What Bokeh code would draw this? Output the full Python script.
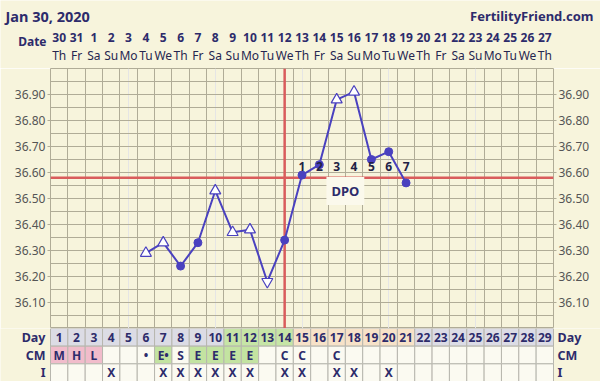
import numpy as np
from bokeh.plotting import figure
from bokeh.layouts import column
from bokeh.models import (Range1d, FixedTicker, LinearAxis, Span, Label, Grid,
                          ColumnDataSource, FactorRange, PrintfTickFormatter)
from bokeh.core.properties import value
from bokeh.embed import file_html
from bokeh.resources import INLINE

# ---------------- data ----------------
title = "Jan 30, 2020"
site = "FertilityFriend.com"
days = list(range(1, 30))
dates = ["30", "31", "1", "2", "3", "4", "5", "6", "7", "8", "9", "10", "11", "12",
         "13", "14", "15", "16", "17", "18", "19", "20", "21", "22", "23", "24",
         "25", "26", "27"]
weekdays = ["Th", "Fr", "Sa", "Su", "Mo", "Tu", "We"] * 4 + ["Th"]

temp_days = [6, 7, 8, 9, 10, 11, 12, 13, 14, 15, 16, 17, 18, 19, 20, 21]
temps = [36.29, 36.33, 36.24, 36.33, 36.53, 36.37, 36.38, 36.18, 36.34,
         36.59, 36.63, 36.88, 36.91, 36.65, 36.68, 36.56]
temp_marks = ["tri", "tri", "dot", "dot", "tri", "tri", "tri", "inv", "dot",
              "dot", "dot", "tri", "tri", "dot", "dot", "dot"]

coverline = 36.58
ovulation_day = 14
dpo_days = [15, 16, 17, 18, 19, 20, 21]
dpo_labels = ["1", "2", "3", "4", "5", "6", "7"]

y_ticks = [36.10, 36.20, 36.30, 36.40, 36.50, 36.60, 36.70, 36.80, 36.90]

day_phase = ["g"] * 10 + ["fertile"] * 4 + ["luteal"] * 7 + ["g"] * 8
cm = ["M", "H", "L", "", "", "•", "E•", "S", "E", "E", "E", "E", "", "C", "C",
      "", "C"] + [""] * 12
cm_kind = ["period", "period", "period", "", "", "", "egg", "", "egg", "egg",
           "egg", "egg"] + [""] * 17
intercourse = ["", "", "", "X", "", "", "X", "X", "X", "X", "X", "X", "", "X",
               "X", "", "X", "X", "", "X"] + [""] * 9

# ---------------- style ----------------
BG = "#f7f4dc"
GRID = "#b0ac97"
NAVY = "#2d2b6b"
LINE = "#4a41bf"
RED = "#d95c5c"
FONT_NAME = "Noto Sans"
FONT = value(FONT_NAME)
W = 600
LEFT, RIGHT = 50, 47
FRAME_W = W - LEFT - RIGHT
UNIT = 29.0 / FRAME_W
X0 = 0.5 - LEFT * UNIT
X1 = 29.5 + RIGHT * UNIT
H_HEAD, H_MAIN, H_TAB = 68, 260, 53


def px2x(px):
    return X0 + px * UNIT


def bare(fig):
    fig.min_border_left = fig.min_border_right = 0
    fig.min_border_top = fig.min_border_bottom = 0
    fig.background_fill_color = BG
    fig.border_fill_color = BG
    fig.outline_line_color = None
    fig.grid.visible = False
    fig.frame_align = False


# ---------------- header ----------------
h = figure(width=W, height=H_HEAD, x_range=Range1d(X0, X1), y_range=Range1d(H_HEAD, 0),
           x_axis_location=None, y_axis_location=None, toolbar_location=None,
           output_backend="svg", min_border=0)
bare(h)
h.text(x=[px2x(5)], y=[15], text=[title], text_font=FONT, text_font_style="bold",
       text_font_size="14.5px", text_color=NAVY, text_baseline="middle")
h.text(x=[px2x(593)], y=[15], text=[site], text_font=FONT, text_font_style="bold",
       text_font_size="13px", text_color=NAVY, text_baseline="middle", text_align="right")
h.text(x=[px2x(46)], y=[41], text=["Date"], text_font=FONT, text_font_style="bold",
       text_font_size="12px", text_color=NAVY, text_baseline="middle", text_align="right")
h.text(x=days, y=37, text=dates, text_font=FONT, text_font_style="bold",
       text_font_size="12px", text_color=NAVY, text_baseline="middle", text_align="center")
h.text(x=days, y=55, text=weekdays, text_font=FONT,
       text_font_size="12px", text_color="#262650", text_baseline="middle", text_align="center")

# ---------------- main chart ----------------
p = figure(width=W, height=H_MAIN, x_range=Range1d(0.5, 29.5), y_range=Range1d(36.0, 37.0),
           x_axis_location=None, y_axis_location="left", toolbar_location=None,
           output_backend="svg")
p.min_border_left = LEFT
p.min_border_right = RIGHT
p.min_border_top = 0
p.min_border_bottom = 0
p.frame_align = False
p.background_fill_color = BG
p.border_fill_color = BG
p.outline_line_color = GRID
p.ygrid.ticker = FixedTicker(ticks=[float(v) for v in np.round(np.arange(36.0, 37.001, 0.05), 2)])
p.ygrid.grid_line_color = GRID
p.add_layout(Grid(dimension=0, ticker=FixedTicker(ticks=[d - 0.5 for d in days] + [29.5]),
                  grid_line_color=GRID))

ra = LinearAxis()
p.add_layout(ra, "right")
for ax in p.yaxis:
    ax.ticker = FixedTicker(ticks=y_ticks)
    ax.formatter = PrintfTickFormatter(format="%.2f")
    ax.axis_line_color = None
    ax.major_tick_line_color = GRID
    ax.major_tick_in = 0
    ax.major_tick_out = 3
    ax.minor_tick_line_color = None
    ax.major_label_standoff = 2
    ax.major_label_text_font = FONT_NAME
    ax.major_label_text_font_size = "12px"
    ax.major_label_text_color = "#555555"

p.add_layout(Span(location=ovulation_day, dimension="height", line_color=RED,
                  line_width=2.5, level="underlay"))
p.add_layout(Span(location=coverline, dimension="width", line_color=RED,
                  line_width=2.5, level="underlay"))

src = ColumnDataSource(dict(x=temp_days, y=temps, m=temp_marks))
p.line("x", "y", source=src, line_color=LINE, line_width=2)
tri_x = [d for d, m in zip(temp_days, temp_marks) if m == "tri"]
tri_y = [t for t, m in zip(temps, temp_marks) if m == "tri"]
dot_x = [d for d, m in zip(temp_days, temp_marks) if m == "dot"]
dot_y = [t for t, m in zip(temps, temp_marks) if m == "dot"]
inv_x = [d for d, m in zip(temp_days, temp_marks) if m == "inv"]
inv_y = [t for t, m in zip(temps, temp_marks) if m == "inv"]
p.scatter(tri_x, tri_y, marker="triangle", size=11, fill_color="white",
          line_color=LINE, line_width=1.2)
p.scatter(inv_x, inv_y, marker="inverted_triangle", size=11, fill_color="white",
          line_color=LINE, line_width=1.2)
p.scatter(dot_x, dot_y, marker="circle", size=8, fill_color=LINE, line_color=LINE)

p.text(x=dpo_days, y=36.623, text=dpo_labels, text_font=FONT, text_font_style="bold",
       text_font_size="12px", text_color="#222244", text_align="center",
       text_baseline="middle")
p.add_layout(Label(x=17.5, y=36.529, text="DPO", text_font=FONT_NAME,
                   text_font_style="bold", text_font_size="13px", text_color=NAVY,
                   text_align="center", text_baseline="middle",
                   background_fill_color="#fbf9ec", padding=5))

# ---------------- table ----------------
rows = ["I", "CM", "Day"]
t = figure(width=W, height=H_TAB, x_range=Range1d(X0, X1), y_range=FactorRange(factors=rows),
           x_axis_location=None, y_axis_location=None, toolbar_location=None,
           output_backend="svg", min_border=0)
bare(t)

phase_col = {"g": "#dcdce5", "fertile": "#c6e5a6", "luteal": "#f7e2c8"}
cm_col = {"period": "#f1bccb", "egg": "#c3e3a1", "": "#fbfaf1"}
CELL_LINE = "#b7b6ae"

t.rect(x=days, y=["Day"] * 29, width=1, height=1,
       fill_color=[phase_col[k] for k in day_phase], line_color=CELL_LINE)
t.rect(x=days, y=["CM"] * 29, width=1, height=1,
       fill_color=[cm_col[k] for k in cm_kind], line_color=CELL_LINE)
t.rect(x=days, y=["I"] * 29, width=1, height=1,
       fill_color="#fbfaf1", line_color=CELL_LINE)

t.text(x=days, y=["Day"] * 29, text=[str(d) for d in days], text_font=FONT,
       text_font_style="bold", text_font_size="12px", text_color=NAVY,
       text_align="center", text_baseline="middle")
t.text(x=days, y=["CM"] * 29, text=cm, text_font=FONT, text_font_style="bold",
       text_font_size="12px", text_color=NAVY, text_align="center", text_baseline="middle")
t.text(x=days, y=["I"] * 29, text=intercourse, text_font=FONT, text_font_style="bold",
       text_font_size="12px", text_color=NAVY, text_align="center", text_baseline="middle")

t.text(x=[px2x(45)] * 3, y=["Day", "CM", "I"], text=["Day", "CM", "I"], text_font=FONT,
       text_font_style="bold", text_font_size="12.5px", text_color=NAVY,
       text_align="right", text_baseline="middle")
t.text(x=[px2x(557)] * 3, y=["Day", "CM", "I"], text=["Day", "CM", "I"], text_font=FONT,
       text_font_style="bold", text_font_size="12.5px", text_color=NAVY,
       text_align="left", text_baseline="middle")

layout = column(h, p, t, spacing=0)
open("out.html", "w").write(file_html(layout, INLINE))
